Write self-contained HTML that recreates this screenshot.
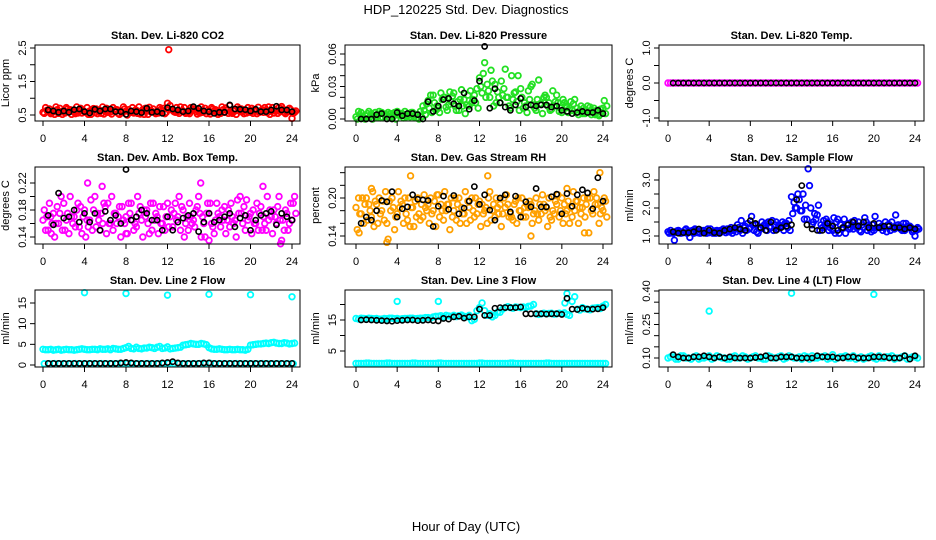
<!DOCTYPE html>
<html><head><meta charset="utf-8"><style>
html,body{margin:0;padding:0;background:#fff;}
svg{display:block;font-family:"Liberation Sans",Arial,sans-serif;}
</style></head><body>
<svg id="chart" width="936" height="540" viewBox="0 0 936 540" xmlns="http://www.w3.org/2000/svg">
<rect x="0" y="0" width="936" height="540" fill="#fff"/>
<text x="466" y="14" font-size="13" text-anchor="middle">HDP_120225  Std. Dev. Diagnostics</text>
<text x="466" y="531" font-size="13" text-anchor="middle">Hour of Day (UTC)</text>
<g id="panels"></g>
</svg>
<script>
const halfHours = [0,0.5,1,1.5,2,2.5,3,3.5,4,4.5,5,5.5,6,6.5,7,7.5,8,8.5,9,9.5,10,10.5,11,11.5,12,12.5,13,13.5,14,14.5,15,15.5,16,16.5,17,17.5,18,18.5,19,19.5,20,20.5,21,21.5,22,22.5,23,23.5,24];
const xTicks = [0,4,8,12,16,20,24];

// Panel 1: CO2
const co2RedA = [0.58,0.62,0.6,0.55,0.63,0.6,0.58,0.65,0.6,0.62,0.57,0.64,0.6,0.59,0.66,0.6,0.62,0.58,0.64,0.6,0.7,0.61,0.6,0.63,0.85,0.64,0.6,0.62,0.58,0.66,0.62,0.6,0.59,0.63,0.6,0.58,0.78,0.62,0.6,0.64,0.58,0.62,0.6,0.66,0.61,0.62,0.75,0.6,0.4];
const co2RedB = [0.55,0.68,0.52,0.7,0.56,0.66,0.54,0.7,0.58,0.52,0.68,0.55,0.7,0.53,0.66,0.57,0.5,0.72,0.55,0.66,0.52,0.68,0.56,0.7,2.45,0.6,0.55,0.72,0.54,0.68,0.56,0.7,0.53,0.66,0.55,0.71,0.58,0.52,0.68,0.56,0.7,0.54,0.66,0.57,0.72,0.55,0.68,0.6,0.55];
const co2RedC = [0.72,0.54,0.74,0.6,0.72,0.52,0.74,0.56,0.72,0.66,0.54,0.74,0.58,0.72,0.55,0.74,0.66,0.56,0.74,0.52,0.73,0.58,0.72,0.54,0.78,0.58,0.74,0.55,0.72,0.6,0.74,0.54,0.72,0.58,0.74,0.65,0.55,0.74,0.6,0.72,0.55,0.73,0.58,0.74,0.56,0.72,0.58,0.7,0.58];
const co2RedD = [0.64,0.57,0.66,0.52,0.68,0.62,0.56,0.63,0.52,0.69,0.61,0.53,0.66,0.62,0.52,0.68,0.58,0.64,0.53,0.7,0.6,0.54,0.67,0.58,0.66,0.72,0.62,0.58,0.67,0.53,0.58,0.64,0.68,0.52,0.66,0.55,0.62,0.68,0.54,0.6,0.66,0.58,0.72,0.52,0.64,0.6,0.54,0.66,0.62];
const co2Black = [null,0.65,0.62,0.58,0.62,0.58,0.66,0.68,0.6,0.56,0.67,0.62,0.68,0.68,0.6,0.6,0.52,0.62,0.6,0.57,0.7,0.58,0.6,0.55,0.72,0.68,0.65,0.6,0.62,0.75,0.7,0.62,0.6,0.55,0.58,0.58,0.8,0.68,0.67,0.66,0.62,0.67,0.6,0.6,0.65,0.76,0.65,0.65,0.6];
const co2YTicks = [0.5,1.0,1.5,2.0,2.5];
const co2YLabels = ["0.5","","1.5","","2.5"];

// Panel 2: Pressure
const presGreenA = [0.002,0.006,0.003,0.005,0.002,0.006,0.004,0.003,0.007,0.005,0.003,0.006,0.004,0.012,0.017,0.022,0.01,0.02,0.013,0.024,0.008,0.018,0.012,0.022,0.038,0.052,0.02,0.032,0.015,0.046,0.01,0.025,0.028,0.012,0.03,0.008,0.014,0.02,0.009,0.022,0.006,0.012,0.008,0.01,0.005,0.012,0.007,0.004,0.01];
const presGreenB = [0.0,0.002,0.005,0.0,0.004,0.001,0.006,0.002,0.004,0.001,0.005,0.002,0.0,0.008,0.01,0.015,0.006,0.02,0.025,0.012,0.018,0.005,0.026,0.015,0.03,0.02,0.045,0.015,0.035,0.02,0.04,0.016,0.02,0.006,0.032,0.018,0.005,0.012,0.026,0.015,0.018,0.006,0.014,0.004,0.01,0.006,0.01,0.003,0.017];
const presGreenC = [0.007,0.001,0.007,0.003,0.007,0.004,0.001,0.006,0.003,0.007,0.002,0.004,0.007,0.004,0.022,0.008,0.024,0.011,0.016,0.008,0.027,0.013,0.015,0.028,0.024,0.032,0.035,0.025,0.022,0.02,0.018,0.04,0.01,0.026,0.013,0.036,0.02,0.015,0.012,0.007,0.015,0.01,0.018,0.008,0.005,0.011,0.004,0.009,0.005];
const presGreenD = [0.004,0.0,0.002,0.006,0.001,0.003,0.005,0.0,0.005,0.002,0.006,0.001,0.002,0.014,0.006,0.012,0.018,0.008,0.021,0.016,0.012,0.022,0.018,0.01,0.042,0.026,0.012,0.02,0.028,0.012,0.024,0.008,0.015,0.018,0.01,0.014,0.022,0.008,0.016,0.01,0.012,0.016,0.006,0.012,0.008,0.004,0.008,0.006,0.012];
const presBlack = [null,0.0,0.0,0.0,0.004,0.005,0.0,0.0,0.006,0.003,0.005,0.005,0.004,0.0,0.016,0.007,0.012,0.018,0.019,0.014,0.012,0.024,0.009,0.017,0.035,0.067,0.01,0.028,0.015,0.011,0.008,0.013,0.019,0.011,0.013,0.012,0.013,0.013,0.011,0.012,0.008,0.007,0.005,0.006,0.007,0.006,0.006,0.008,0.005];
const presYTicks = [0,0.01,0.02,0.03,0.04,0.05,0.06];
const presYLabels = ["0.00","","","0.03","","","0.06"];

// Panel 3: Li-820 Temp
const tempMagenta = [0,0,0,0,0,0,0,0,0,0,0,0,0,0,0,0,0,0,0,0,0,0,0,0,0,0,0,0,0,0,0,0,0,0,0,0,0,0,0,0,0,0,0,0,0,0,0,0,0];
const tempBlack = [null,0,0,0,0,0,0,0,0,0,0,0,0,0,0,0,0,0,0,0,0,0,0,0,0,0,0,0,0,0,0,0,0,0,0,0,0,0,0,0,0,0,0,0,0,0,0,0,0];
const tempYTicks = [-1,-0.5,0,0.5,1];
const tempYLabels = ["-1.0","","0.0","","1.0"];

// Panel 4: Amb box temp
const ambMagA = [0.165,0.15,0.175,0.16,0.19,0.145,0.17,0.155,0.18,0.165,0.2,0.15,0.185,0.16,0.175,0.14,0.17,0.19,0.155,0.165,0.18,0.15,0.17,0.16,0.19,0.155,0.17,0.18,0.15,0.165,0.2,0.16,0.175,0.145,0.17,0.185,0.155,0.165,0.2,0.15,0.175,0.16,0.185,0.15,0.17,0.16,0.135,0.175,0.165];
const ambMagB = [0.18,0.19,0.14,0.175,0.15,0.2,0.155,0.185,0.14,0.195,0.155,0.175,0.145,0.2,0.16,0.185,0.145,0.165,0.2,0.14,0.16,0.19,0.145,0.185,0.155,0.175,0.2,0.14,0.19,0.155,0.175,0.14,0.19,0.165,0.155,0.145,0.19,0.14,0.175,0.195,0.145,0.19,0.15,0.2,0.145,0.185,0.165,0.15,0.19];
const ambMagC = [0.15,0.17,0.16,0.2,0.165,0.17,0.18,0.145,0.165,0.15,0.175,0.16,0.19,0.15,0.17,0.165,0.19,0.15,0.175,0.18,0.145,0.165,0.185,0.15,0.17,0.19,0.15,0.16,0.17,0.18,0.14,0.175,0.16,0.19,0.18,0.165,0.17,0.195,0.16,0.165,0.18,0.15,0.17,0.165,0.18,0.2,0.15,0.16,0.2];
const ambMagD = [0.17,0.16,0.185,0.15,0.175,0.16,0.19,0.17,0.155,0.18,0.165,0.19,0.16,0.175,0.185,0.16,0.175,0.16,0.185,0.17,0.19,0.175,0.16,0.17,0.18,0.165,0.185,0.17,0.16,0.185,0.17,0.19,0.155,0.175,0.165,0.18,0.16,0.175,0.185,0.17,0.16,0.175,0.16,0.18,0.17,0.165,0.18,0.19,0.175];
const ambOutHours = [4.3,5.7,15.2,21.2,22.9,16.0,0.8,8.0];
const ambOutVals = [0.22,0.215,0.22,0.215,0.13,0.135,0.145,0.145];
const ambBlack = [null,0.172,0.158,0.205,0.168,0.17,0.18,0.162,0.175,0.162,0.175,0.15,0.178,0.165,0.172,0.16,0.24,0.165,0.17,0.18,0.175,0.165,0.165,0.15,0.17,0.15,0.162,0.168,0.172,0.175,0.148,0.162,0.175,0.162,0.165,0.17,0.175,0.155,0.168,0.172,0.15,0.165,0.172,0.175,0.178,0.158,0.175,0.17,0.165];
const ambYTicks = [0.14,0.16,0.18,0.20,0.22];
const ambYLabels = ["0.14","","0.18","","0.22"];

// Panel 5: Gas stream RH
const rhOrA = [0.185,0.175,0.2,0.17,0.19,0.18,0.16,0.2,0.175,0.19,0.165,0.185,0.2,0.17,0.19,0.18,0.205,0.165,0.19,0.18,0.2,0.175,0.185,0.17,0.195,0.18,0.21,0.17,0.19,0.185,0.175,0.195,0.18,0.17,0.19,0.2,0.175,0.185,0.165,0.19,0.2,0.18,0.17,0.195,0.185,0.2,0.175,0.19,0.18];
const rhOrB = [0.15,0.2,0.165,0.21,0.16,0.195,0.135,0.185,0.21,0.16,0.2,0.155,0.175,0.205,0.16,0.195,0.17,0.21,0.15,0.2,0.16,0.21,0.165,0.2,0.155,0.185,0.165,0.2,0.155,0.205,0.17,0.16,0.2,0.19,0.16,0.175,0.205,0.155,0.18,0.205,0.16,0.195,0.21,0.16,0.2,0.145,0.21,0.16,0.2];
const rhOrC = [0.2,0.16,0.19,0.155,0.2,0.165,0.195,0.15,0.185,0.2,0.155,0.195,0.165,0.185,0.2,0.155,0.19,0.18,0.2,0.165,0.185,0.16,0.2,0.175,0.19,0.16,0.18,0.185,0.175,0.19,0.165,0.2,0.17,0.185,0.175,0.165,0.19,0.2,0.175,0.17,0.19,0.16,0.18,0.185,0.17,0.2,0.19,0.175,0.195];
const rhOrD = [0.175,0.19,0.18,0.195,0.175,0.21,0.18,0.17,0.195,0.175,0.185,0.17,0.19,0.18,0.175,0.205,0.18,0.19,0.17,0.19,0.175,0.195,0.18,0.19,0.175,0.2,0.19,0.175,0.2,0.17,0.19,0.18,0.185,0.195,0.18,0.19,0.18,0.17,0.195,0.18,0.175,0.185,0.195,0.175,0.19,0.18,0.2,0.185,0.17];
const rhOutHours = [3.0,5.3,12.8,20.5,23.7,22.2,17.0,0.3,1.5];
const rhOutVals = [0.13,0.235,0.235,0.215,0.24,0.145,0.14,0.145,0.215];
const rhBlack = [null,0.16,0.17,0.165,0.18,0.196,0.194,0.21,0.17,0.183,0.186,0.205,0.198,0.197,0.196,0.155,0.187,0.203,0.182,0.204,0.175,0.184,0.195,0.218,0.19,0.205,0.181,0.165,0.2,0.205,0.178,0.203,0.17,0.194,0.186,0.215,0.186,0.186,0.202,0.206,0.175,0.207,0.187,0.205,0.213,0.208,0.183,0.232,0.195];
const rhYTicks = [0.14,0.16,0.18,0.20,0.22,0.24];
const rhYLabels = ["0.14","","","0.20","",""];

// Panel 6: Sample flow
const sfBlueA = [1.15,1.1,1.2,1.12,1.18,1.1,1.15,1.2,1.12,1.18,1.1,1.2,1.15,1.25,1.2,1.35,1.3,1.4,1.25,1.45,1.3,1.5,1.35,1.45,2.4,2.0,1.9,1.6,1.4,1.75,1.3,1.5,1.2,1.6,1.3,1.45,1.25,1.5,1.3,1.4,1.2,1.45,1.3,1.4,1.25,1.35,1.2,1.35,1.0];
const sfBlueB = [1.1,0.85,1.15,1.2,0.95,1.25,1.1,1.15,1.25,1.1,1.2,1.12,1.3,1.15,1.55,1.2,1.7,1.15,1.5,1.2,1.55,1.25,1.5,1.3,1.8,2.5,2.5,3.4,1.5,2.1,1.55,1.2,1.65,1.1,1.6,1.25,1.55,1.2,1.65,1.25,1.7,1.3,1.5,1.2,1.75,1.25,1.45,1.3,1.2];
const sfBlueC = [1.2,1.15,1.1,1.25,1.15,1.2,1.2,1.1,1.15,1.2,1.15,1.25,1.1,1.4,1.1,1.45,1.4,1.1,1.35,1.5,1.2,1.4,1.2,1.55,2.2,2.3,1.6,2.8,1.8,1.2,1.4,1.3,1.1,1.4,1.1,1.3,1.4,1.15,1.5,1.15,1.3,1.35,1.15,1.5,1.3,1.2,1.35,1.15,1.3];
const sfBlueD = [1.12,1.18,1.12,1.1,1.2,1.12,1.18,1.25,1.1,1.15,1.25,1.15,1.2,1.3,1.3,1.25,1.2,1.3,1.4,1.3,1.4,1.3,1.45,1.2,2.0,1.9,2.1,2.0,1.6,1.4,1.6,1.4,1.5,1.25,1.4,1.5,1.3,1.4,1.2,1.4,1.3,1.2,1.4,1.3,1.4,1.45,1.3,1.2,1.25];
const sfBlack = [null,1.15,1.1,1.12,1.12,1.15,1.25,1.1,1.2,1.12,1.1,1.2,1.25,1.3,1.25,1.2,1.55,1.45,1.3,1.2,1.5,1.2,1.3,1.35,1.4,2.3,2.8,1.4,1.25,1.2,1.2,1.45,1.35,1.2,1.3,1.4,1.5,1.35,1.5,1.3,1.45,1.3,1.35,1.35,1.3,1.3,1.25,1.3,1.25];
const sfYTicks = [1.0,1.5,2.0,2.5,3.0];
const sfYLabels = ["1.0","","2.0","","3.0"];

// Panel 7: Line 2 flow
const l2CyanA = [3.8,3.7,3.6,3.8,3.7,3.7,3.6,3.8,3.8,3.7,3.8,3.9,3.8,3.7,3.9,3.8,4.2,4.0,4.3,3.9,4.1,4.2,4.3,4.0,4.4,4.0,4.2,4.8,5.0,5.1,5.0,5.1,4.2,3.8,3.9,3.7,3.8,3.7,3.7,3.6,4.8,5.0,5.1,5.3,5.4,5.3,5.2,5.3,5.2];
const l2CyanB = [3.7,3.8,3.7,3.6,3.8,3.7,3.7,3.9,3.7,3.8,3.7,3.8,3.9,4.0,3.8,4.0,4.5,3.9,4.0,4.1,4.3,4.0,4.5,4.1,3.9,4.1,4.3,4.9,5.2,5.0,5.2,4.9,3.9,3.8,3.8,3.7,3.7,3.8,3.7,3.8,4.9,5.1,5.2,5.2,5.5,5.2,5.4,5.1,5.3];
const l2CyanLow = [0.3,0.3,0.35,0.3,0.3,0.3,0.35,0.3,0.3,0.3,0.3,0.35,0.3,0.3,0.3,0.3,0.35,0.3,0.3,0.3,0.35,0.3,0.3,0.3,0.4,0.35,0.3,0.3,0.3,0.3,0.35,0.3,0.4,0.3,0.3,0.3,0.3,0.35,0.3,0.3,0.3,0.3,0.35,0.3,0.3,0.3,0.3,0.3,0.3];
const l2OutHours = [4,8,12,16,20,24];
const l2OutVals = [17.5,17.3,16.9,17.1,17.0,16.5];
const l2Black = [null,0.4,0.4,0.4,0.4,0.4,0.4,0.4,0.4,0.4,0.4,0.4,0.4,0.4,0.4,0.5,0.6,0.5,0.4,0.4,0.4,0.4,0.4,0.5,0.6,0.8,0.5,0.4,0.4,0.4,0.4,0.5,0.5,0.4,0.4,0.4,0.4,0.4,0.4,0.4,0.4,0.4,0.4,0.4,0.4,0.4,0.4,0.4,0.4];
const l2YTicks = [0,5,10,15];
const l2YLabels = ["0","5","10","15"];

// Panel 8: Line 3 flow
const l3CyanA = [15.5,15.6,15.4,15.5,15.5,15.3,15.4,15.6,15.5,15.4,15.5,15.6,15.5,15.6,15.8,16.0,16.2,16.0,16.3,16.5,16.4,16.2,16.5,15.2,19.0,18.0,17.0,16.5,17.5,19.0,19.0,19.2,19.0,19.0,19.5,17.0,17.0,17.0,17.2,17.0,17.0,16.8,21.0,18.5,19.0,18.5,18.8,19.0,19.5];
const l3CyanB = [15.3,15.5,15.6,15.4,15.3,15.5,15.6,15.4,15.3,15.5,15.6,15.4,15.6,15.8,15.6,16.2,16.4,16.5,16.2,16.1,16.6,16.0,14.8,18.0,20.5,16.5,16.0,17.5,18.5,19.3,18.8,19.1,19.2,19.4,20.0,16.8,17.2,17.1,16.9,17.2,17.3,16.5,22.5,18.2,18.6,18.3,18.9,18.7,20.0];
const l3CyanLow = [1.0,1.0,1.1,1.0,1.0,1.0,1.1,1.0,1.0,1.0,1.0,1.1,1.0,1.0,1.0,1.0,1.1,1.0,1.0,1.0,1.0,1.0,1.0,1.0,1.1,1.0,1.0,1.0,1.0,1.0,1.1,1.0,1.0,1.0,1.0,1.0,1.0,1.1,1.0,1.0,1.0,1.0,1.0,1.0,1.0,1.0,1.0,1.0,1.0];
const l3OutHours = [4,8,20.5,20.3];
const l3OutVals = [21.0,21.0,23.5,20.5];
const l3Black = [null,15,15.1,15,14.9,14.8,14.7,14.6,14.8,14.9,15,15,14.8,14.9,15,14.8,14.7,15.5,15.3,16,16.2,15.6,16,16,18.5,16.5,16.5,18.8,19,19,19,19,19.2,17,17,17,17,16.9,17,17,16.8,22,18.5,18.4,18.8,18.5,18.5,18.6,19];
const l3YTicks = [5,10,15,20];
const l3YLabels = ["5","","15",""];

// Panel 9: Line 4 (LT) flow
const l4CyanA = [0.1,0.105,0.095,0.11,0.1,0.105,0.095,0.1,0.11,0.1,0.105,0.1,0.095,0.11,0.1,0.105,0.1,0.11,0.1,0.095,0.105,0.1,0.11,0.1,0.105,0.1,0.095,0.105,0.11,0.1,0.105,0.095,0.115,0.1,0.105,0.1,0.11,0.1,0.095,0.105,0.1,0.11,0.1,0.105,0.095,0.1,0.11,0.1,0.105];
const l4CyanB = [0.105,0.095,0.11,0.1,0.095,0.11,0.1,0.105,0.095,0.11,0.1,0.095,0.105,0.1,0.11,0.095,0.105,0.1,0.095,0.11,0.1,0.105,0.095,0.11,0.1,0.105,0.11,0.095,0.1,0.105,0.11,0.1,0.095,0.105,0.11,0.1,0.095,0.105,0.1,0.11,0.095,0.1,0.105,0.11,0.1,0.105,0.095,0.105,0.1];
const l4OutHours = [4,12,20];
const l4OutVals = [0.31,0.39,0.385];
const l4Black = [null,0.115,0.105,0.1,0.1,0.105,0.105,0.11,0.105,0.1,0.105,0.1,0.105,0.1,0.1,0.1,0.1,0.102,0.105,0.11,0.1,0.1,0.105,0.105,0.105,0.1,0.1,0.1,0.1,0.11,0.105,0.105,0.105,0.1,0.1,0.105,0.105,0.1,0.1,0.1,0.105,0.105,0.105,0.1,0.1,0.1,0.11,0.095,0.11];
const l4YTicks = [0.10,0.15,0.20,0.25,0.30,0.35,0.40];
const l4YLabels = ["0.10","","","0.25","","","0.40"];

const NS = "http://www.w3.org/2000/svg";
const root = document.getElementById("panels");
function mk(tag, attrs, parent){
  const e = document.createElementNS(NS, tag);
  for (const k in attrs) e.setAttribute(k, attrs[k]);
  parent.appendChild(e);
  return e;
}

const cols = [{l:35,r:300,x0:43,x24:292},{l:345,r:612,x0:356,x24:603},{l:659,r:924,x0:668,x24:915}];
const rows = [{t:45,b:121},{t:167,b:244},{t:290,b:367}];

function drawPanel(p){
  const c = cols[p.col], r = rows[p.row];
  const g = mk("g", {}, root);
  
  
  const xs = h => c.x0 + h*(c.x24-c.x0)/24;
  const ys = v => p.yA + (v - p.vA)*(p.yB - p.yA)/(p.vB - p.vA);
  const t = mk("text", {x:(c.l+c.r)/2, y:r.t-6, "font-size":11, "font-weight":"bold", "text-anchor":"middle"}, g);
  
  
  t.textContent = p.title;
  const pts = mk("g", {}, g);
  
  
  p.series.forEach(s => {
    const n = Math.min(s.hours.length, s.vals.length);
    const isBlack = s.color === "#000";
    for (let i=0;i<n;i++){
      const v = s.vals[i];
      if (v === null || v === undefined) continue;
      const cy = ys(v);
      if (cy < r.t-3 || cy > r.b+3) continue;
      const ci = mk("circle", {cx:xs(s.hours[i] + (s.off||0)), cy:cy, r:isBlack?2.6:2.8, fill:"none", stroke:s.color, "stroke-width":isBlack?1.6:1.8}, pts);
      
      
    }
  });
  const box = mk("rect", {x:c.l, y:r.t, width:c.r-c.l, height:r.b-r.t, fill:"none", stroke:"#000", "stroke-width":1}, g);
  
  
  const xa = mk("g", {}, g);
  
  
  xTicks.forEach(h => {
    mk("line", {x1:xs(h), x2:xs(h), y1:r.b, y2:r.b+5, stroke:"#000"}, xa);
    const tl = mk("text", {x:xs(h), y:r.b+21, "font-size":11, "text-anchor":"middle"}, xa);
    
    
    tl.textContent = String(h);
  });
  const ya = mk("g", {}, g);
  
  
  p.yTicks.forEach((v,i) => {
    const y = ys(v);
    mk("line", {x1:c.l-5, x2:c.l, y1:y, y2:y, stroke:"#000"}, ya);
    if (p.yLabels[i]) {
      const tx = c.l-9;
      const tl = mk("text", {x:tx, y:y, "font-size":11, "text-anchor":"middle", transform:`rotate(-90 ${tx} ${y})`}, ya);
      
      
      tl.textContent = p.yLabels[i];
    }
  });
  const yx = c.l-26, yy = (r.t+r.b)/2;
  const yt = mk("text", {x:yx, y:yy, "font-size":11, "text-anchor":"middle", transform:`rotate(-90 ${yx} ${yy})`}, g);
  
  
  yt.textContent = p.ylab;
}

const RED="#ff0000", GRN="#22e022", MAG="#ff00ff", ORG="#ffa000", BLU="#0000ff", CYN="#00ffff", BLK="#000";

drawPanel({name:"panel-co2", title:"Stan. Dev. Li-820 CO2", ylab:"Licor ppm", col:0,row:0, vA:0.5,yA:115, vB:2.5,yB:48, yTicks:co2YTicks, yLabels:co2YLabels,
  series:[{hours:halfHours,vals:co2RedA,color:RED,off:0,label:"co2-point"},{hours:halfHours,vals:co2RedB,color:RED,off:0.12,label:"co2-point"},{hours:halfHours,vals:co2RedC,color:RED,off:0.25,label:"co2-point"},{hours:halfHours,vals:co2RedD,color:RED,off:0.37,label:"co2-point"},{hours:halfHours,vals:co2Black,color:BLK,off:0,label:"co2-mean-point"}]});
drawPanel({name:"panel-pressure", title:"Stan. Dev. Li-820 Pressure", ylab:"kPa", col:1,row:0, vA:0,yA:119, vB:0.06,yB:54, yTicks:presYTicks, yLabels:presYLabels,
  series:[{hours:halfHours,vals:presGreenA,color:GRN,off:0,label:"pressure-point"},{hours:halfHours,vals:presGreenB,color:GRN,off:0.12,label:"pressure-point"},{hours:halfHours,vals:presGreenC,color:GRN,off:0.25,label:"pressure-point"},{hours:halfHours,vals:presGreenD,color:GRN,off:0.37,label:"pressure-point"},{hours:halfHours,vals:presBlack,color:BLK,off:0,label:"pressure-mean-point"}]});
drawPanel({name:"panel-li820-temp", title:"Stan. Dev. Li-820 Temp.", ylab:"degrees C", col:2,row:0, vA:-1,yA:118, vB:1,yB:48, yTicks:tempYTicks, yLabels:tempYLabels,
  series:[{hours:halfHours,vals:tempMagenta,color:MAG,off:0,label:"temp-point"},{hours:halfHours,vals:tempMagenta,color:MAG,off:0.25,label:"temp-point"},{hours:halfHours,vals:tempBlack,color:BLK,off:0,label:"temp-mean-point"}]});
drawPanel({name:"panel-amb-box-temp", title:"Stan. Dev. Amb. Box Temp.", ylab:"degrees C", col:0,row:1, vA:0.14,yA:237, vB:0.22,yB:183, yTicks:ambYTicks, yLabels:ambYLabels,
  series:[{hours:halfHours,vals:ambMagA,color:MAG,off:0,label:"amb-temp-point"},{hours:halfHours,vals:ambMagB,color:MAG,off:0.12,label:"amb-temp-point"},{hours:halfHours,vals:ambMagC,color:MAG,off:0.25,label:"amb-temp-point"},{hours:halfHours,vals:ambMagD,color:MAG,off:0.37,label:"amb-temp-point"},{hours:ambOutHours,vals:ambOutVals,color:MAG,off:0,label:"amb-temp-point"},{hours:halfHours,vals:ambBlack,color:BLK,off:0,label:"amb-temp-mean-point"}]});
drawPanel({name:"panel-gas-rh", title:"Stan. Dev. Gas Stream RH", ylab:"percent", col:1,row:1, vA:0.14,yA:236, vB:0.20,yB:198, yTicks:rhYTicks, yLabels:rhYLabels,
  series:[{hours:halfHours,vals:rhOrA,color:ORG,off:0,label:"rh-point"},{hours:halfHours,vals:rhOrB,color:ORG,off:0.12,label:"rh-point"},{hours:halfHours,vals:rhOrC,color:ORG,off:0.25,label:"rh-point"},{hours:halfHours,vals:rhOrD,color:ORG,off:0.37,label:"rh-point"},{hours:rhOutHours,vals:rhOutVals,color:ORG,off:0,label:"rh-point"},{hours:halfHours,vals:rhBlack,color:BLK,off:0,label:"rh-mean-point"}]});
drawPanel({name:"panel-sample-flow", title:"Stan. Dev. Sample Flow", ylab:"ml/min", col:2,row:1, vA:1.0,yA:236, vB:3.0,yB:180, yTicks:sfYTicks, yLabels:sfYLabels,
  series:[{hours:halfHours,vals:sfBlueA,color:BLU,off:0,label:"sample-flow-point"},{hours:halfHours,vals:sfBlueB,color:BLU,off:0.12,label:"sample-flow-point"},{hours:halfHours,vals:sfBlueC,color:BLU,off:0.25,label:"sample-flow-point"},{hours:halfHours,vals:sfBlueD,color:BLU,off:0.37,label:"sample-flow-point"},{hours:halfHours,vals:sfBlack,color:BLK,off:0,label:"sample-flow-mean-point"}]});
drawPanel({name:"panel-line2-flow", title:"Stan. Dev. Line 2 Flow", ylab:"ml/min", col:0,row:2, vA:0,yA:365, vB:15,yB:303, yTicks:l2YTicks, yLabels:l2YLabels,
  series:[{hours:halfHours,vals:l2CyanA,color:CYN,off:0,label:"line2-point"},{hours:halfHours,vals:l2CyanB,color:CYN,off:0.25,label:"line2-point"},{hours:halfHours,vals:l2CyanLow,color:CYN,off:0.12,label:"line2-point"},{hours:l2OutHours,vals:l2OutVals,color:CYN,off:0,label:"line2-point"},{hours:halfHours,vals:l2Black,color:BLK,off:0,label:"line2-mean-point"}]});
drawPanel({name:"panel-line3-flow", title:"Stan. Dev. Line 3 Flow", ylab:"ml/min", col:1,row:2, vA:0,yA:366.5, vB:15,yB:320, yTicks:l3YTicks, yLabels:l3YLabels,
  series:[{hours:halfHours,vals:l3CyanA,color:CYN,off:0,label:"line3-point"},{hours:halfHours,vals:l3CyanB,color:CYN,off:0.25,label:"line3-point"},{hours:halfHours,vals:l3CyanLow,color:CYN,off:0,label:"line3-point"},{hours:halfHours,vals:l3CyanLow,color:CYN,off:0.25,label:"line3-point"},{hours:l3OutHours,vals:l3OutVals,color:CYN,off:0,label:"line3-point"},{hours:halfHours,vals:l3Black,color:BLK,off:0,label:"line3-mean-point"}]});
drawPanel({name:"panel-line4-flow", title:"Stan. Dev. Line 4 (LT) Flow", ylab:"ml/min", col:2,row:2, vA:0.10,yA:358, vB:0.40,yB:291, yTicks:l4YTicks, yLabels:l4YLabels,
  series:[{hours:halfHours,vals:l4CyanA,color:CYN,off:0,label:"line4-point"},{hours:halfHours,vals:l4CyanB,color:CYN,off:0.25,label:"line4-point"},{hours:l4OutHours,vals:l4OutVals,color:CYN,off:0,label:"line4-point"},{hours:halfHours,vals:l4Black,color:BLK,off:0,label:"line4-mean-point"}]});
</script>
</body></html>
